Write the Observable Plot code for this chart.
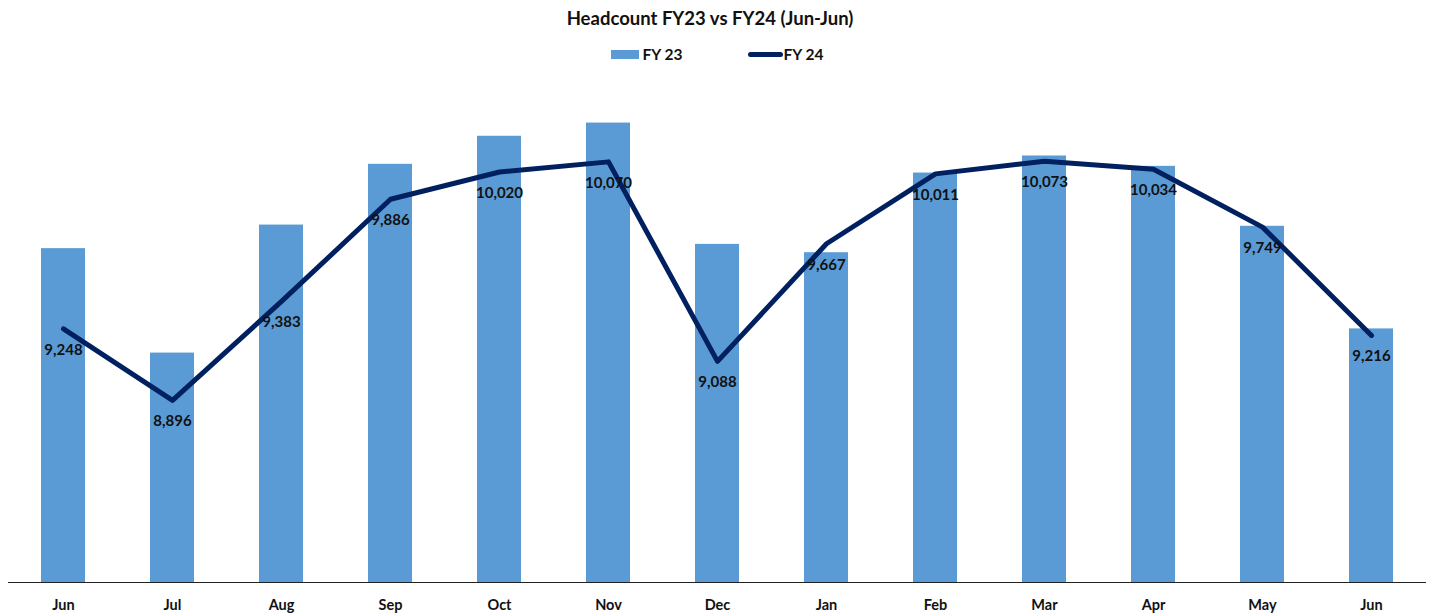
<!DOCTYPE html>
<html>
<head>
<meta charset="utf-8">
<script src="https://cdn.jsdelivr.net/npm/d3@7"></script>
<script src="https://cdn.jsdelivr.net/npm/@observablehq/plot@0.6"></script>
<style>
  html, body { margin: 0; padding: 0; background: #fff; }
  body { width: 1434px; height: 616px; overflow: hidden; font-family: Lato, "Open Sans", sans-serif; }
  #title { height: 36px; line-height: 36px; text-align: center; font-weight: bold; font-size: 18.5px; color: #111; padding-right: 14px; }
  #legend { height: 36px; display: flex; justify-content: center; align-items: center; font-weight: bold; font-size: 15.5px; color: #111; }
  .item { display: flex; align-items: center; }
  .sw-bar { width: 28px; height: 9px; background: #5B9BD5; margin-right: 4px; }
  .sw-line { width: 35px; height: 5px; border-radius: 3px; background: #002060; margin-right: 1px; }
  #chart svg { display: block; }
</style>
</head>
<body>
<div id="title">Headcount FY23 vs FY24 (Jun-Jun)</div>
<div id="legend">
  <div class="item"><div class="sw-bar"></div><span>FY 23</span></div>
  <div style="width:65px"></div>
  <div class="item"><div class="sw-line"></div><span>FY 24</span></div>
</div>
<div id="chart"></div>
<script>
const months = ["Jun","Jul","Aug","Sep","Oct","Nov","Dec","Jan","Feb","Mar","Apr","May","Jun"];
const fy23 = [9643, 9129, 9759, 10058, 10196, 10261, 9664, 9623, 10015, 10099, 10048, 9753, 9248];
const fy24 = [9248, 8896, 9383, 9886, 10020, 10070, 9088, 9667, 10011, 10073, 10034, 9749, 9216];
const yDomain = [8000, 10500];

const data = months.map((m, i) => ({i, month: m, fy23: fy23[i], fy24: fy24[i]}));
const fmt = d3.format(",");

const chart = Plot.plot({
  width: 1434,
  height: 544,
  marginTop: 2,
  marginBottom: 34,
  marginLeft: 8,
  marginRight: 8,
  style: {fontFamily: "Lato, 'Open Sans', sans-serif", fontSize: "14px", fontWeight: "bold", color: "#111", background: "#fff"},
  x: {type: "band", domain: d3.range(months.length), paddingInner: 0.597, paddingOuter: 0.30, label: null, axis: null},
  y: {domain: yDomain, axis: null},
  marks: [
    Plot.barY(data, {x: "i", y: "fy23", fill: "#5B9BD5", clip: true}),
    Plot.ruleY([yDomain[0]], {stroke: "#222", strokeWidth: 1.2}),
    Plot.axisX({tickSize: 0, tickPadding: 17, tickFormat: i => months[i], fontSize: 14.5, fontWeight: "bold", fill: "#111"}),
    Plot.line(data, {x: "i", y: "fy24", stroke: "#002060", strokeWidth: 5, strokeLinejoin: "round", strokeLinecap: "round"}),
    Plot.text(data, {x: "i", y: "fy24", text: d => fmt(d.fy24), dy: 21, fontSize: 15, fontWeight: "bold", fill: "#111"})
  ]
});
document.getElementById("chart").appendChild(chart);
</script>
</body>
</html>
